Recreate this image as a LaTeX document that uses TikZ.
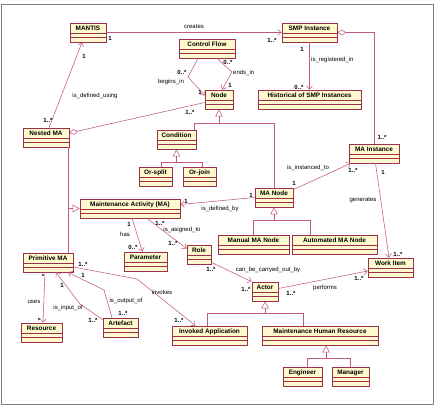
\documentclass[tikz,border=0pt]{standalone}
\usepackage{fontspec}
\setmainfont{Liberation Sans}
\usetikzlibrary{arrows.meta,positioning,calc}

\definecolor{clsline}{RGB}{158,46,78}
\definecolor{clsfill}{RGB}{255,250,205}
\definecolor{assocline}{RGB}{192,90,128}
\definecolor{framegray}{RGB}{128,128,128}

\begin{document}
\begin{tikzpicture}[
  x=1pt, y=-1pt,
  umlclass/.style={draw=clsline, fill=clsfill, line width=0.7pt, inner sep=0pt,
    minimum height=19pt, text height=7.1pt, text depth=11.9pt,
    font=\fontsize{6.4}{7}\selectfont\bfseries,
    path picture={
      \draw[clsline, line width=0.5pt]
        ([yshift=4.6pt]path picture bounding box.south west) -- ([yshift=4.6pt]path picture bounding box.south east)
        ([yshift=9.2pt]path picture bounding box.south west) -- ([yshift=9.2pt]path picture bounding box.south east);
    }},
  umlline/.style={draw=assocline, line width=0.55pt},
  assoc/.style={umlline, -{Straight Barb[length=3.5pt,width=6pt]}},
  genl/.style={umlline, -{Triangle[open,length=7pt,width=7.5pt]}},
  aggr/.style={umlline, {Diamond[open,length=9pt,width=5.5pt]}-},
  lbl/.style={font=\fontsize{6}{7}\selectfont, inner sep=0pt},
  mult/.style={font=\fontsize{6}{7}\selectfont\bfseries, inner sep=0pt}
]
\useasboundingbox (0,0) rectangle (437,408);
\draw[framegray, line width=0.8pt] (1.5,4) rectangle (433,404);

% ---- classes ----
\node[umlclass, minimum width=36pt] (mantis) at (88,32.5) {MANTIS};
\node[umlclass, minimum width=55pt] (smp) at (309.5,32.5) {SMP Instance};
\node[umlclass, minimum width=56pt] (ctrlflow) at (207,48.5) {Control Flow};
\node[umlclass, minimum width=28pt] (nodecls) at (219,99.5) {Node};
\node[umlclass, minimum width=103pt] (hist) at (309.5,99.5) {Historical of SMP Instances};
\node[umlclass, minimum width=46pt] (nested) at (46,137.5) {Nested MA};
\node[umlclass, minimum width=39pt] (condition) at (176.5,139.5) {Condition};
\node[umlclass, minimum width=33pt] (orsplit) at (155.5,176.5) {Or-split};
\node[umlclass, minimum width=33pt] (orjoin) at (199.5,176.5) {Or-join};
\node[umlclass, minimum width=50pt] (mainst) at (374,153.5) {MA Instance};
\node[umlclass, minimum width=100pt] (ma) at (130,208.5) {Maintenance Activity (MA)};
\node[umlclass, minimum width=38pt] (manode) at (274,197.5) {MA Node};
\node[umlclass, minimum width=71pt] (manual) at (253.5,244.5) {Manual MA Node};
\node[umlclass, minimum width=85pt] (automated) at (334.5,244.5) {Automated MA Node};
\node[umlclass, minimum width=43pt] (param) at (145.5,261.5) {Parameter};
\node[umlclass, minimum width=24pt] (role) at (199,254.5) {Role};
\node[umlclass, minimum width=50pt] (primitive) at (48,262.5) {Primitive MA};
\node[umlclass, minimum width=45pt] (workitem) at (390.5,267.5) {Work Item};
\node[umlclass, minimum width=26pt] (actor) at (265,291.5) {Actor};
\node[umlclass, minimum width=41pt] (resource) at (41.5,332.5) {Resource};
\node[umlclass, minimum width=35pt] (artefact) at (120.5,327.5) {Artefact};
\node[umlclass, minimum width=75pt] (invoked) at (209.5,335.5) {Invoked Application};
\node[umlclass, minimum width=116pt] (mhr) at (320,335.5) {Maintenance Human Resource};
\node[umlclass, minimum width=39pt] (engineer) at (302.5,376.5) {Engineer};
\node[umlclass, minimum width=37pt] (manager) at (350.5,376.5) {Manager};

% ---- creates ----
\draw[assoc] (mantis.east) -- (smp.west);
\node[lbl] (l-creates) at (194,27) {creates};
\node[mult] (m-creates1) at (110,38) {1};
\node[mult] (m-creates2) at (272,40) {1..*};

% ---- is_registered_in ----
\draw[assoc] (smp.south) -- (hist.north);
\node[mult] (m-reg1) at (302,49) {1};
\node[lbl, anchor=west] (l-reg) at (311,60) {is\_registered\_in};
\node[mult] (m-reg2) at (299,87) {0..*};

% ---- SMP Instance <>-- MA Instance ----
\draw[aggr] (smp.east) -| (mainst.north);
\node[mult] (m-agg2) at (382,137) {1..*};

% ---- begins_in / ends_in ----
\coordinate (cfbend1) at (188,77);
\draw[assoc] ([xshift=-9pt]ctrlflow.south) -- (cfbend1) -- ([yshift=4pt]nodecls.west);
\node[mult] (m-begin1) at (182,72) {0..*};
\node[lbl] (l-begin) at (171,82) {begins\_in};
\node[mult] (m-begin2) at (200,92) {1};

\coordinate (cfbend2) at (232,72);
\draw[assoc] ([xshift=10pt]ctrlflow.south) -- (cfbend2) -- ([xshift=3pt]nodecls.north);
\node[mult] (m-end1) at (228,62) {0..*};
\node[lbl, anchor=west] (l-end) at (233,73) {ends\_in};
\node[mult] (m-end2) at (230,85) {1};

% ---- Nested MA ----
\draw[aggr] ([yshift=4.5pt]nested.east) -- ([yshift=-3pt]nodecls.west);
\node[mult] (m-nest2) at (190,112) {1..*};

\draw[assoc] ([xshift=3pt]nested.north) -- ([xshift=-6pt]mantis.south);
\node[mult] (m-using1) at (84,56) {1};
\node[lbl] (l-using) at (95,96) {is\_defined\_using};
\node[mult] (m-using2) at (48,120) {1..*};

% ---- generalisations ----
\coordinate (mabranch) at (68,0 |- ma.west);
\draw[genl] (mabranch) -- (ma.west);
\draw[umlline] (68,0 |- nested.south) -- (68,0 |- primitive.north);

\coordinate (nodebar) at (nodecls.south |- 0,123);
\draw[genl] (nodebar) -- (nodecls.south);
\draw[umlline] ([xshift=-2pt]condition.north east) |- (manode.north |- nodebar) -- (manode.north);

\coordinate (condbar) at (condition.south |- 0,162);
\draw[genl] (condbar) -- (condition.south);
\draw[umlline] ([xshift=5.5pt]orsplit.north) |- ([xshift=2.5pt]orjoin.north |- condbar) -- ([xshift=2.5pt]orjoin.north);

\coordinate (manodebar) at (manode.south |- 0,220);
\draw[genl] (manodebar) -- (manode.south);
\draw[umlline] (manual.north) |- ([xshift=-24.5pt]automated.north |- manodebar) -- ([xshift=-24.5pt]automated.north);

\coordinate (actorbar) at (actor.south |- 0,313);
\draw[genl] (actorbar) -- (actor.south);
\draw[umlline] ([xshift=-2.5pt]invoked.north) |- ([xshift=-17pt]mhr.north |- actorbar) -- ([xshift=-17pt]mhr.north);

\coordinate (mhrbar) at ([xshift=6pt]mhr.south |- 0,358);
\draw[genl] (mhrbar) -- (mhrbar |- mhr.south);
\draw[umlline] ([xshift=4.5pt]engineer.north) |- (manager.north |- mhrbar) -- (manager.north);

% ---- MA Node associations ----
\draw[assoc] (manode.west) -- ([yshift=4pt]ma.east);
\node[mult] (m-defby1) at (251,195) {1};
\node[mult] (m-defby2) at (186,201) {1};
\node[lbl] (l-defby) at (220,209) {is\_defined\_by};

\draw[assoc] ([yshift=-2pt]manode.north east) -- ([xshift=2pt]mainst.south west);
\node[mult] (m-inst1) at (294,183) {1};
\node[lbl] (l-inst) at (308,168) {is\_instanced\_to};
\node[mult] (m-inst2) at (353,170) {1..*};

\draw[assoc] ([xshift=1.5pt]mainst.south) -- ([xshift=-1.5pt]workitem.north);
\node[mult] (m-gen1) at (383,172) {1};
\node[lbl] (l-gen) at (363,200) {generates};
\node[mult] (m-gen2) at (398,254) {1..*};

% ---- MA associations ----
\draw[assoc] ([xshift=2pt]ma.south) -- ([xshift=-3pt]param.north);
\node[mult] (m-has1) at (129,224) {1};
\node[lbl] (l-has) at (125,234) {has};
\node[mult] (m-has2) at (133,247) {0..*};

\draw[assoc] ([xshift=17pt]ma.south) -- ([yshift=6pt]role.west);
\node[mult] (m-asg1) at (160,223) {1..*};
\node[lbl] (l-asg) at (182,230) {is\_asigned\_to};
\node[mult] (m-asg2) at (173,243) {1..*};

\draw[assoc] ([yshift=2pt]role.south east) -- (actor.north west);
\node[mult] (m-carry1) at (211,269) {1..*};
\node[lbl] (l-carry) at (268,270) {can\_be\_carryed\_out\_by};
\node[mult] (m-carry2) at (246,289) {1..*};

\draw[assoc] ([yshift=3pt]actor.east) -- ([yshift=-3.5pt]workitem.west);
\node[mult] (m-perf1) at (291,293) {1..*};
\node[lbl] (l-perf) at (325,288) {performs};
\node[mult] (m-perf2) at (359,278) {1..*};

% ---- Primitive MA associations ----
\coordinate (invbend) at (137,279);
\draw[assoc] ([yshift=-4.5pt]primitive.east) -- (invbend) -- ([xshift=-14pt]invoked.north);
\node[mult] (m-inv1) at (83,264) {1..*};
\node[lbl] (l-inv) at (162,292) {invokes};
\node[mult] (m-inv2) at (179,320) {1..*};

\draw[assoc] ([xshift=-3pt]primitive.south) -- ([xshift=1.5pt]resource.north);
\node[mult] (m-uses1) at (43,276) {*};
\node[lbl] (l-uses) at (34,302) {uses};
\node[mult] (m-uses2) at (39,320) {*};

\coordinate (inbend) at (80,304);
\draw[assoc] ([yshift=-2pt]artefact.north west) -- (inbend) -- ([xshift=8pt]primitive.south);
\node[mult] (m-in1) at (93,320) {1..*};
\node[lbl] (l-in) at (68,308) {is\_input\_of};
\node[mult] (m-in2) at (62,285) {1};

\coordinate (outbend) at (104,290);
\draw[assoc] ([xshift=-8.5pt]artefact.north) -- (outbend) -- ([xshift=20pt]primitive.south);
\node[mult] (m-out1) at (123,313) {1..*};
\node[lbl] (l-out) at (126,301) {is\_output\_of};
\node[mult] (m-out2) at (83,275) {1};

\end{tikzpicture}
\end{document}
